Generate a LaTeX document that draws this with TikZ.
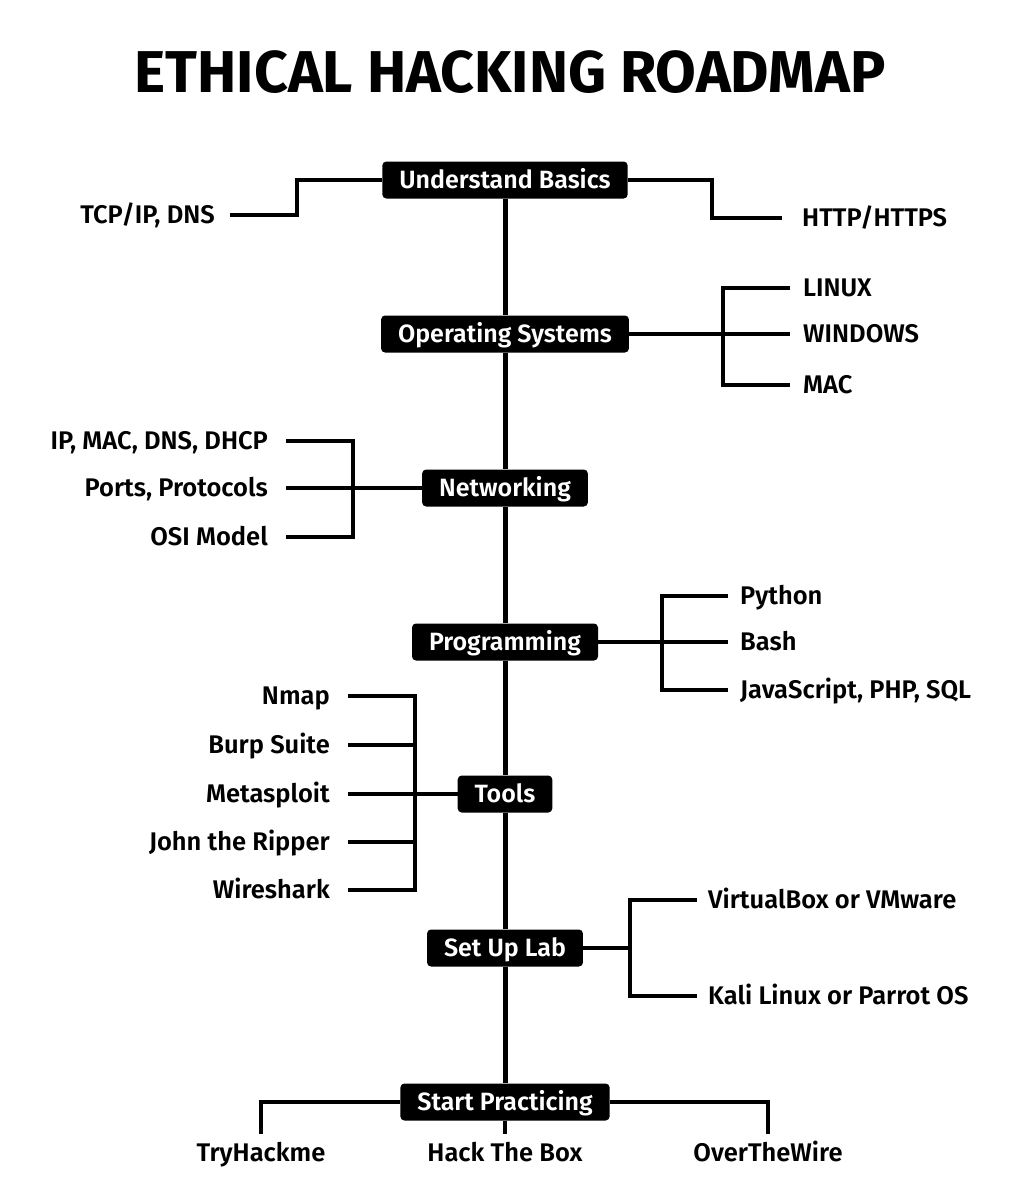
\documentclass[tikz,border=0pt]{standalone}
\usepackage{fontspec}
\setmainfont{Fira Sans SemiBold}[BoldFont={Fira Sans Bold}]

\tikzset{
  stage/.style={fill=black, text=white, rounded corners=4pt, inner xsep=17pt,
    minimum height=37pt, text height=17pt, text depth=0pt,
    font=\fontsize{25}{29}\selectfont},
  item/.style={inner sep=0pt, text height=17pt, text depth=0pt,
    font=\fontsize{25.5}{29}\selectfont},
  branch/.style={line width=3.5pt},
  spine/.style={line width=5pt}
}

\begin{document}
\begin{tikzpicture}[x=1pt, y=-1pt]
    \useasboundingbox (0,0) rectangle (1020,1200) ;
    \node[font=\fontsize{59}{62}\selectfont\bfseries] (title) at (510,72) {ETHICAL HACKING ROADMAP} ;

    % stages on the spine
    \node[stage] (ub) at (505,180) {Understand Basics} ;
    \node[stage] (os) at (505,334) {Operating Systems} ;
    \node[stage] (net) at (505,488) {Networking} ;
    \node[stage] (prog) at (505,642) {Programming} ;
    \node[stage] (tools) at (505,794) {Tools} ;
    \node[stage] (lab) at (505,948) {Set Up Lab} ;
    \node[stage] (sp) at (505,1102) {Start Practicing} ;
    \draw[spine] (ub) -- (os) -- (net) -- (prog) -- (tools) -- (lab) -- (sp) ;

    % topics
    \node[item, anchor=east] (tcp) at (215,215) {TCP/IP, DNS} ;
    \node[item, anchor=west] (http) at (802,218) {HTTP/HTTPS} ;
    \node[item, anchor=west] (linux) at (803,288) {LINUX} ;
    \node[item, anchor=west] (win) at (803,334) {WINDOWS} ;
    \node[item, anchor=west] (mac) at (803,385) {MAC} ;
    \node[item, anchor=east] (ipmac) at (268,441) {IP, MAC, DNS, DHCP} ;
    \node[item, anchor=east] (ports) at (268,488) {Ports, Protocols} ;
    \node[item, anchor=east] (osi) at (268,537) {OSI Model} ;
    \node[item, anchor=west] (py) at (740,596) {Python} ;
    \node[item, anchor=west] (bash) at (740,642) {Bash} ;
    \node[item, anchor=west] (js) at (740,690) {JavaScript, PHP, SQL} ;
    \node[item, anchor=east] (nmap) at (330,696) {Nmap} ;
    \node[item, anchor=east] (burp) at (330,745) {Burp Suite} ;
    \node[item, anchor=east] (msf) at (330,794) {Metasploit} ;
    \node[item, anchor=east] (john) at (330,842) {John the Ripper} ;
    \node[item, anchor=east] (wire) at (330,890) {Wireshark} ;
    \node[item, anchor=west] (vbox) at (708,900) {VirtualBox or VMware} ;
    \node[item, anchor=west] (kali) at (708,996) {Kali Linux or Parrot OS} ;
    \node[item] (thm) at (261,1153) {TryHackme} ;
    \node[item] (htb) at (505,1153) {Hack The Box} ;
    \node[item] (otw) at (768,1153) {OverTheWire} ;

    % bends of the branches
    \coordinate (ubl) at (297,197) ;
    \coordinate (ubr) at (712,197) ;
    \coordinate (osk) at (723,334) ;
    \coordinate (netk) at (353,488) ;
    \coordinate (progk) at (662,642) ;
    \coordinate (toolk) at (415,794) ;
    \coordinate (labk) at (630,948) ;

    \draw[branch] ([xshift=15pt]tcp.east) -| (ubl) |- (ub.west) ;
    \draw[branch] (ub.east) -| (ubr) |- ([xshift=-20pt]http.west) ;
    \draw[branch] ([xshift=-13pt]linux.west) -| (osk) |- ([xshift=-13pt]mac.west) ;
    \draw[branch] (os.east) -- ([xshift=-13pt]win.west) ;
    \draw[branch] ([xshift=18pt]ipmac.east) -| (netk) |- ([xshift=18pt]osi.east) ;
    \draw[branch] ([xshift=18pt]ports.east) -- (net.west) ;
    \draw[branch] ([xshift=-12pt]py.west) -| (progk) |- ([xshift=-12pt]js.west) ;
    \draw[branch] (prog.east) -- ([xshift=-12pt]bash.west) ;
    \draw[branch] ([xshift=18pt]nmap.east) -| (toolk) |- ([xshift=18pt]wire.east) ;
    \foreach \n in {burp, john}
      \draw[branch] ([xshift=18pt]\n.east) -- (\n.east -| toolk) ;
    \draw[branch] ([xshift=18pt]msf.east) -- (tools.west) ;
    \draw[branch] ([xshift=-11pt]vbox.west) -| (labk) |- ([xshift=-11pt]kali.west) ;
    \draw[branch] (lab.east) -- (labk) ;
    \draw[branch] (sp.west) -| ([yshift=10pt]thm.north) ;
    \draw[branch] (sp.east) -| ([yshift=10pt]otw.north) ;
    \draw[branch] (sp.south) -- ([yshift=10pt]htb.north) ;
  \end{tikzpicture}
\end{document}
